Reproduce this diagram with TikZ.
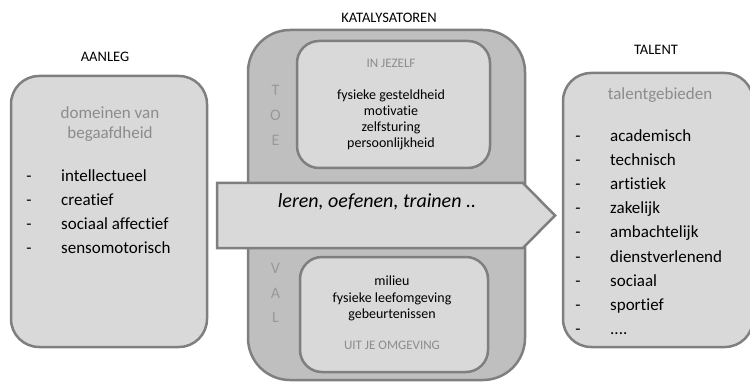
\documentclass[tikz,border=0pt]{standalone}
\usepackage{fontspec}
\setmainfont{Carlito}[Ligatures=NoCommon]
\definecolor{bord}{HTML}{7F7F7F}
\definecolor{lightfill}{HTML}{D9D9D9}
\definecolor{darkfill}{HTML}{BFBFBF}
\definecolor{softtext}{HTML}{8C8C8C}
\definecolor{lettertext}{HTML}{999999}
\begin{document}
\begin{tikzpicture}[x=1pt,y=-1pt,
  rbox/.style={draw=bord, line width=2.5pt, fill=lightfill, rounded corners=#1, inner sep=0pt},
  rbox/.default=26pt,
  title/.style={font=\fontsize{14.5}{17}\selectfont, text=black, inner sep=0pt},
  item/.style={font=\fontsize{17}{20}\selectfont, text=black, inner sep=0pt, anchor=mid west},
  dashmark/.style={font=\fontsize{17}{20}\selectfont, text=black, inner sep=0pt, anchor=mid},
  head/.style={font=\fontsize{17}{20}\selectfont, text=softtext, inner sep=0pt, anchor=mid},
  small/.style={font=\fontsize{14}{16}\selectfont, text=black, inner sep=0pt, anchor=mid},
  smallhead/.style={font=\fontsize{13}{16}\selectfont, text=softtext, inner sep=0pt, anchor=mid},
  letter/.style={font=\fontsize{16}{18}\selectfont, text=lettertext, inner sep=0pt, anchor=center},
]
\useasboundingbox (0,0) rectangle (750,385);

% titles
\node[title] (taanleg) at (105,57) {AANLEG};
\node[title] (tkat) at (389,18) {KATALYSATOREN};
\node[title] (ttalent) at (656,50) {TALENT};

% left box
\node[rbox=28pt, minimum width=196pt, minimum height=271pt] (aanlegbox) at (109,211.5) {};
\node[head] (dom1) at (110,116) {domeinen van};
\node[head] (dom2) at (110,136) {begaafdheid};
\foreach \t [count=\i] in {intellectueel, creatief, sociaal affectief, sensomotorisch}{
  \node[dashmark] (ldash\i) at (29,155+24*\i) {-};
  \node[item] (litem\i) at (61,155+24*\i) {\t};
}

% right box
\node[rbox=28pt, minimum width=190pt, minimum height=274pt] (talentbox) at (658,210) {};
\node[head] (tg) at (660,97) {talentgebieden};
\foreach \t [count=\i] in {academisch, technisch, artistiek, zakelijk, ambachtelijk, dienstverlenend, sociaal, sportief}{
  \node[dashmark] (rdash\i) at (578,114.5+24.2*\i) {-};
  \node[item] (ritem\i) at (610,114.5+24.2*\i) {\t};
}
\node[dashmark] (rdash9) at (578,332.3) {-};
\node[item] (ritem9) at (610,332.3) {....};

% middle outer box
\node[rbox=42pt, fill=darkfill, minimum width=277pt, minimum height=350pt] (katbox) at (386.5,205) {};

% inner top box
\node[rbox=22pt, minimum width=193pt, minimum height=127pt] (jezelf) at (393.5,104.5) {};
\node[smallhead] (jzh) at (391,65) {IN JEZELF};
\node[small] (jz1) at (391,97.5) {fysieke gesteldheid};
\node[small] (jz2) at (391,113.5) {motivatie};
\node[small] (jz3) at (391,129.5) {zelfsturing};
\node[small] (jz4) at (391,145.5) {persoonlijkheid};

% inner bottom box
\node[rbox=22pt, minimum width=188pt, minimum height=115pt] (omgeving) at (394,314.5) {};
\node[small] (om1) at (392,283.5) {milieu};
\node[small] (om2) at (392,300) {fysieke leefomgeving};
\node[small] (om3) at (392,316.5) {gebeurtenissen};
\node[smallhead] (omh) at (392,347) {UIT JE OMGEVING};

% letters
\node[letter] (lt) at (275.5,90.5) {T};
\node[letter] (lo) at (275.5,115.5) {O};
\node[letter] (le) at (275.5,140) {E};
\node[letter] (lv) at (275.5,268.5) {V};
\node[letter] (la) at (275.5,293.5) {A};
\node[letter] (ll) at (275.5,317.5) {L};

% big arrow
\draw[draw=bord, line width=2.5pt, fill=lightfill, line join=miter]
  (217,183) -- (523,183) -- (555,215.5) -- (523,248) -- (217,248) -- cycle;
\node[font=\fontsize{20}{24}\selectfont\itshape, inner sep=0pt, anchor=mid] (leren) at (377,205) {leren, oefenen, trainen ..};
\end{tikzpicture}
\end{document}
